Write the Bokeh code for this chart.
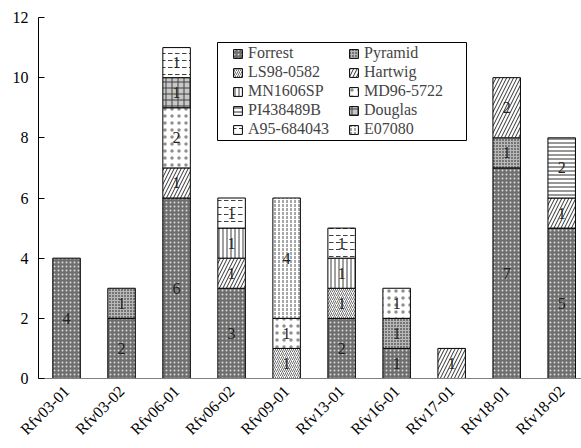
import math
from bokeh.plotting import figure
from bokeh.models import ColumnDataSource, Legend, LegendItem, Range1d, BoxAnnotation
from bokeh.core.properties import value
from bokeh.embed import file_html
from bokeh.resources import INLINE

cats = ["Rfv03-01", "Rfv03-02", "Rfv06-01", "Rfv06-02", "Rfv09-01",
        "Rfv13-01", "Rfv16-01", "Rfv17-01", "Rfv18-01", "Rfv18-02"]
series = ["Forrest", "Pyramid", "LS98-0582", "Hartwig", "MN1606SP",
          "MD96-5722", "PI438489B", "Douglas", "A95-684043", "E07080"]
forrest = [4, 2, 6, 3, 0, 2, 1, 0, 7, 5]
pyramid = [0, 1, 0, 0, 0, 0, 1, 0, 1, 0]
ls98 = [0, 0, 0, 0, 1, 1, 0, 0, 0, 0]
hartwig = [0, 0, 1, 1, 0, 0, 0, 1, 2, 1]
mn1606 = [0, 0, 0, 1, 0, 1, 0, 0, 0, 0]
md96 = [0, 0, 2, 0, 1, 0, 1, 0, 0, 0]
pi438 = [0, 0, 0, 0, 0, 0, 0, 0, 0, 2]
douglas = [0, 0, 1, 0, 0, 0, 0, 0, 0, 0]
a95 = [0, 0, 1, 1, 0, 1, 0, 0, 0, 0]
e07080 = [0, 0, 0, 0, 4, 0, 0, 0, 0, 0]
y_ticks = [0, 2, 4, 6, 8, 10, 12]

data = [forrest, pyramid, ls98, hartwig, mn1606, md96, pi438, douglas, a95, e07080]

SERIF = "'Liberation Serif', 'Times New Roman', serif"

styles = {
    "Forrest":    dict(fill_color="#6f6f6f", hatch_pattern="dot", hatch_color="#d8d8d8", hatch_scale=4),
    "Pyramid":    dict(fill_color="#b8b8b8", hatch_pattern="dot", hatch_color="#101010", hatch_scale=3),
    "LS98-0582":  dict(fill_color="#ffffff", hatch_pattern="right_diagonal_line", hatch_color="#707070", hatch_scale=4),
    "Hartwig":    dict(fill_color="#ffffff", hatch_pattern="right_diagonal_line", hatch_color="#303030", hatch_scale=7),
    "MN1606SP":   dict(fill_color="#ffffff", hatch_pattern="vertical_line", hatch_color="#404040", hatch_scale=4),
    "MD96-5722":  dict(fill_color="#ffffff", hatch_pattern="dot", hatch_color="#909090", hatch_scale=7),
    "PI438489B":  dict(fill_color="#ffffff", hatch_pattern="horizontal_line", hatch_color="#303030", hatch_scale=4),
    "Douglas":    dict(fill_color="#c8c8c8", hatch_pattern="cross", hatch_color="#404040", hatch_scale=6),
    "A95-684043": dict(fill_color="#ffffff", hatch_pattern="horizontal_dash", hatch_color="#404040", hatch_scale=7),
    "E07080":     dict(fill_color="#ffffff", hatch_pattern="vertical_dash", hatch_color="#505050", hatch_scale=4),
}

xpos = list(range(len(cats)))

p = figure(width=581, height=448, output_backend="svg", toolbar_location=None,
           x_range=Range1d(-0.51, 9.36), y_range=Range1d(0, 12),
           min_border_left=38, min_border_right=0, min_border_top=17, min_border_bottom=70)
p.outline_line_color = None
p.xgrid.grid_line_color = None
p.ygrid.grid_line_color = None
p.background_fill_color = "white"

renderers = []
bottoms = [0] * len(cats)
lx, ly, lt = [], [], []
for name, vals in zip(series, data):
    xs, bs, ts = [], [], []
    for i, v in enumerate(vals):
        if v > 0:
            xs.append(xpos[i]); bs.append(bottoms[i]); ts.append(bottoms[i] + v)
            lx.append(xpos[i]); ly.append(bottoms[i] + v / 2); lt.append(str(v))
    src = ColumnDataSource(dict(x=xs, bottom=bs, top=ts))
    r = p.vbar(x="x", bottom="bottom", top="top", width=0.5, source=src,
               line_color="black", line_width=1, **styles[name])
    renderers.append(r)
    bottoms = [b + v for b, v in zip(bottoms, vals)]

p.text(x=lx, y=ly, text=lt, text_align="center", text_baseline="middle",
       text_font=value(SERIF), text_font_size="16px", text_color="#222222")

p.yaxis.ticker = y_ticks
p.yaxis.major_tick_in = 6
p.yaxis.major_tick_out = 0
p.yaxis.minor_tick_line_color = None
p.yaxis.major_label_text_font = SERIF
p.yaxis.major_label_text_font_size = "16px"
p.yaxis.major_label_text_color = "black"
p.yaxis.axis_line_color = "black"
p.yaxis.major_tick_line_color = "black"
p.yaxis.major_label_standoff = 10

p.xaxis.ticker = xpos
p.xaxis.major_label_overrides = {i: c for i, c in zip(xpos, cats)}
p.xaxis.major_tick_line_color = None
p.xaxis.minor_tick_line_color = None
p.xaxis.axis_line_color = "#808080"
p.xaxis.major_label_orientation = math.pi / 4
p.xaxis.major_label_text_font = SERIF
p.xaxis.major_label_text_font_size = "16px"
p.xaxis.major_label_text_color = "black"
p.xaxis.major_label_standoff = 4

# legend: two columns (row-major order as in the reference), one frame around both
legend_box = BoxAnnotation(left=179, right=428, bottom=238, top=336,
                           left_units="screen", right_units="screen",
                           bottom_units="screen", top_units="screen",
                           fill_alpha=0, line_color="black", line_width=1, line_alpha=1)
p.add_layout(legend_box)

common = dict(label_text_font=SERIF, label_text_font_size="16px",
              glyph_width=11, glyph_height=11, label_height=16, spacing=1,
              border_line_color=None, background_fill_alpha=0,
              padding=0, margin=0, label_standoff=5)
left_col = [0, 2, 4, 6, 8]
right_col = [1, 3, 5, 7, 9]
leg1 = Legend(items=[LegendItem(label=series[k], renderers=[renderers[k]]) for k in left_col],
              location=(194, 240), **common)
leg2 = Legend(items=[LegendItem(label=series[k], renderers=[renderers[k]]) for k in right_col],
              location=(310, 240), **common)
p.add_layout(leg1)
p.add_layout(leg2)

open("out.html", "w").write(file_html(p, INLINE))
